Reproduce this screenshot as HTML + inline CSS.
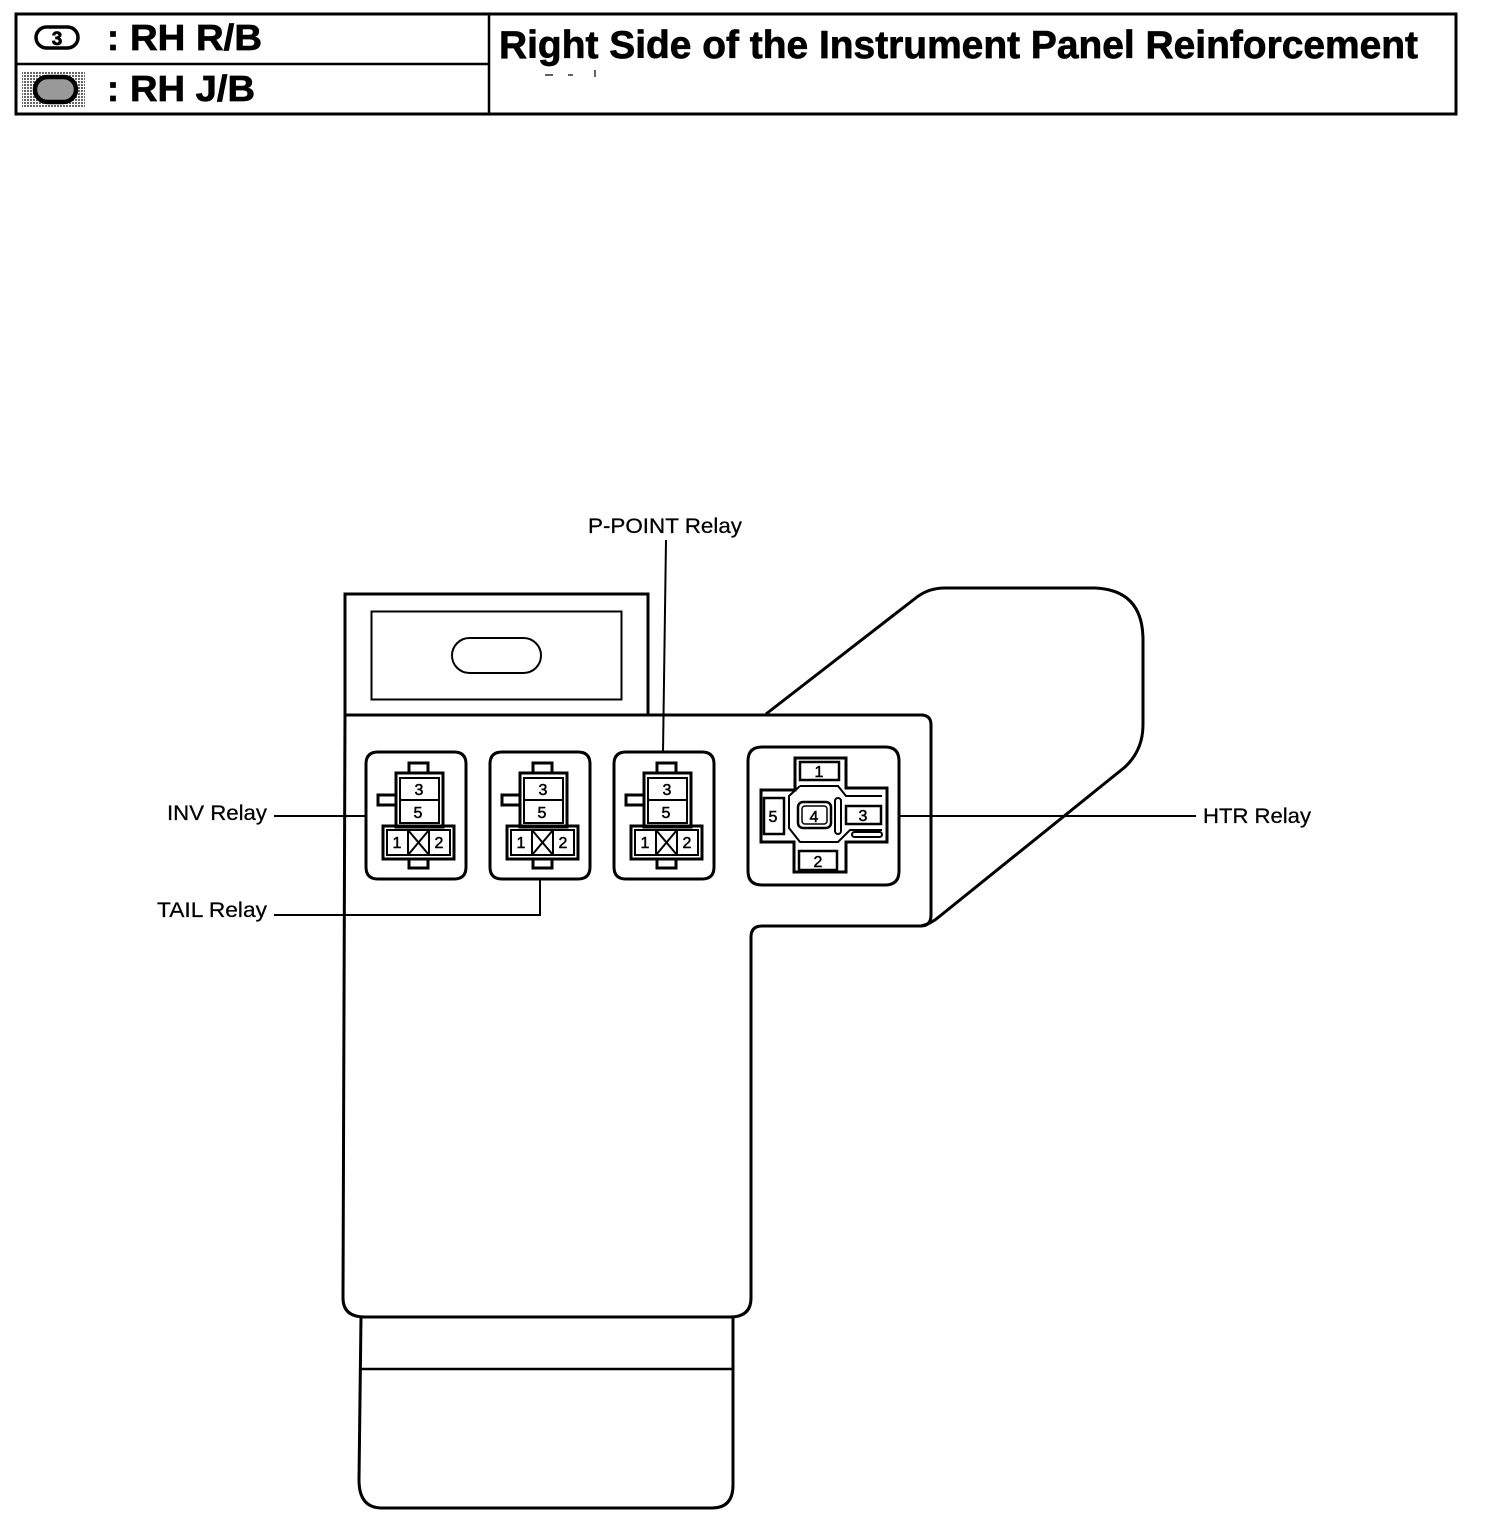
<!DOCTYPE html>
<html>
<head>
<meta charset="utf-8">
<style>
html,body{margin:0;padding:0;background:#fff;width:1504px;height:1530px;overflow:hidden}
svg{display:block}
text{font-family:"Liberation Sans",sans-serif;fill:#000}
.b{font-weight:bold;stroke:#000;stroke-width:.7px}
.l{font-size:21px;stroke:#000;stroke-width:.25px}
.n{font-size:16px;text-anchor:middle;stroke:#000;stroke-width:.5px}
.th{fill:none;stroke:#000;stroke-width:2}
.md{fill:none;stroke:#000;stroke-width:3}
</style>
</head>
<body>
<svg width="1504" height="1530" viewBox="0 0 1504 1530" xmlns="http://www.w3.org/2000/svg">
<defs>
<pattern id="st" width="3" height="3" patternUnits="userSpaceOnUse">
<rect width="3" height="3" fill="#fff"/>
<rect width="2" height="2" fill="#000"/>
</pattern>
<g id="relay">
<path class="md" d="M378 752H454Q466 752 466 764V867Q466 879 454 879H378Q366 879 366 867V764Q366 752 378 752Z"/>
<path class="md" d="M409 772V763H428V772"/>
<path class="md" d="M409 859V868H428V859"/>
<path class="md" d="M396 795H378V805H396"/>
<path class="md" d="M396 773H443V827H396Z"/>
<rect x="383" y="826" width="71" height="33" class="md"/>
<rect x="400" y="778" width="39" height="45" class="th"/>
<line x1="400" y1="800" x2="439" y2="800" class="th"/>
<rect x="387" y="830" width="63" height="25" class="th"/>
<rect x="408" y="830" width="21" height="25" class="th"/>
<line x1="408" y1="830" x2="429" y2="855" class="th"/>
<line x1="429" y1="830" x2="408" y2="855" class="th"/>
<text x="419" y="795" class="n">3</text>
<text x="418" y="818" class="n">5</text>
<text x="397" y="848" class="n">1</text>
<text x="439" y="848" class="n">2</text>
</g>
</defs>

<!-- header -->
<rect x="16" y="14" width="1440" height="100" fill="none" stroke="#000" stroke-width="3"/>
<line x1="489" y1="14" x2="489" y2="114" stroke="#000" stroke-width="2.5"/>
<line x1="16" y1="64" x2="489" y2="64" stroke="#000" stroke-width="2.5"/>
<rect x="36" y="27" width="42" height="21" rx="10.500" fill="#fff" stroke="#000" stroke-width="3.500"/>
<text x="57" y="45" text-anchor="middle" class="b" style="font-size:19px">3</text>
<rect x="22" y="71" width="63" height="36" fill="url(#st)" opacity=".6"/>
<rect x="35" y="77" width="41" height="25" rx="12.500" fill="#999" stroke="#000" stroke-width="4.500"/>
<text x="107" y="50" class="b" style="font-size:36px">:</text>
<text x="130" y="50" class="b" style="font-size:36px" textLength="132" lengthAdjust="spacingAndGlyphs">RH R/B</text>
<text x="107" y="101" class="b" style="font-size:36px">:</text>
<text x="130" y="101" class="b" style="font-size:36px" textLength="125" lengthAdjust="spacingAndGlyphs">RH J/B</text>
<text x="499" y="58" class="b" style="font-size:39px" textLength="919" lengthAdjust="spacingAndGlyphs">Right Side of the Instrument Panel Reinforcement</text>
<path d="M545 75h8M568 75h5M595 70v7" stroke="#000" stroke-width="1.200" fill="none"/>

<!-- body outlines -->
<path class="md" d="M345 715V594H648V715"/>
<rect x="371.500" y="611.500" width="250" height="88" class="th"/>
<rect x="452" y="638" width="89" height="35" rx="17.500" class="th"/>
<path class="md" d="M345 715H921Q931 715 931 725V915Q931 926 921 926H762Q751 926 751 937V1298Q751 1317 730 1317H365Q343 1317 343 1298L345 715"/>
<path class="md" d="M766 714L917 597Q929 588 945 588H1095Q1143 590 1143 640V725Q1143 750 1125 767L940 916Q931 924 921 926"/>
<path class="md" d="M361 1317L359 1480Q359 1508 382 1508H712Q733 1508 733 1485V1317"/>
<line x1="360" y1="1369" x2="733" y2="1369" stroke="#000" stroke-width="2.500"/>

<!-- relays -->
<use href="#relay"/>
<use href="#relay" transform="translate(124,0)"/>
<use href="#relay" transform="translate(248,0)"/>

<!-- HTR relay -->
<path class="md" d="M762 747H885Q899 747 899 761V871Q899 885 885 885H762Q748 885 748 871V761Q748 747 762 747Z"/>
<path class="md" d="M795 758H846V788H887V842H846V872H794V842H761V790H795Z"/>
<path class="th" d="M800 786L789 796V828L800 842H838L850 830H882M800 786H838L846 796H882"/>
<rect x="800" y="762" width="39" height="18" class="th" style="stroke-width:2.500"/>
<rect x="799" y="851" width="38" height="19" class="th" style="stroke-width:2.500"/>
<rect x="764" y="798" width="20" height="36" class="th" style="stroke-width:2.500"/>
<rect x="846" y="806" width="35" height="18" class="th" style="stroke-width:2.500"/>
<rect x="798" y="802" width="33" height="26" rx="5" class="th" style="stroke-width:2.500"/>
<rect x="802" y="806" width="25" height="18" rx="3" class="th" style="stroke-width:1.500"/>
<rect x="835" y="798" width="6" height="36" rx="3" class="th"/>
<rect x="852" y="832" width="30" height="5" rx="2.500" class="th"/>
<text x="819" y="777" class="n">1</text>
<text x="818" y="867" class="n">2</text>
<text x="863" y="821" class="n">3</text>
<text x="814" y="822" class="n">4</text>
<text x="773" y="822" class="n">5</text>

<!-- leaders -->
<g stroke="#000" stroke-width="2" fill="none">
<path d="M666 540L663 752"/>
<path d="M274 816H366"/>
<path d="M274 915H540V880"/>
<path d="M898 816H1196"/>
</g>
<text x="167" y="820" class="l" textLength="100" lengthAdjust="spacingAndGlyphs">INV Relay</text>
<text x="157" y="917" class="l" textLength="110" lengthAdjust="spacingAndGlyphs">TAIL Relay</text>
<text x="588" y="533" class="l" textLength="154" lengthAdjust="spacingAndGlyphs">P-POINT Relay</text>
<text x="1203" y="823" class="l" textLength="108" lengthAdjust="spacingAndGlyphs">HTR Relay</text>
</svg>
</body>
</html>
